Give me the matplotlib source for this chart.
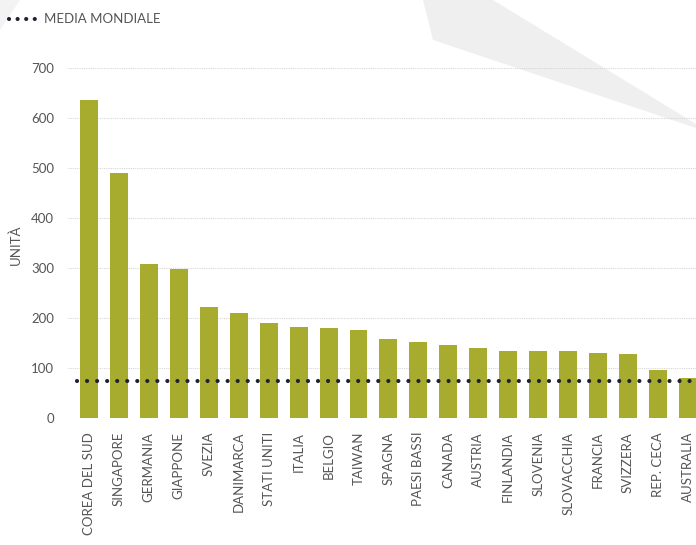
import matplotlib
matplotlib.use('Agg')
import matplotlib.pyplot as plt
from matplotlib.lines import Line2D
from matplotlib.patches import Polygon

plt.rcParams['font.family'] = ['Lato', 'DejaVu Sans']

paesi = ['COREA DEL SUD', 'SINGAPORE', 'GERMANIA', 'GIAPPONE', 'SVEZIA', 'DANIMARCA',
         'STATI UNITI', 'ITALIA', 'BELGIO', 'TAIWAN', 'SPAGNA', 'PAESI BASSI', 'CANADA',
         'AUSTRIA', 'FINLANDIA', 'SLOVENIA', 'SLOVACCHIA', 'FRANCIA', 'SVIZZERA',
         'REP. CECA', 'AUSTRALIA']
unita = [636, 490, 309, 298, 222, 210, 190, 183, 181, 177, 159, 152, 146,
         140, 135, 135, 135, 131, 128, 97, 81]
media_mondiale = 74
y_ticks = [0, 100, 200, 300, 400, 500, 600, 700]

W, H = 696, 545
fig = plt.figure(figsize=(W / 100, H / 100), dpi=100)
fig.patch.set_facecolor('white')

# decorative grey shapes in the background
fig.add_artist(Polygon([(423 / W, 1), (433 / W, 1 - 40 / H), (696 / W, 1 - 128 / H),
                        (696 / W, 1 - 124 / H), (493 / W, 1)],
                       closed=True, transform=fig.transFigure, facecolor='#efefef',
                       edgecolor='none', zorder=0))
fig.add_artist(Polygon([(0, 1), (20 / W, 1), (0, 1 - 30 / H)], closed=True,
                       transform=fig.transFigure, facecolor='#f3f3f3', edgecolor='none', zorder=0))

ax = fig.add_axes([68 / W, (H - 418) / H, (W - 68) / W, 350 / H])
ax.patch.set_alpha(0)

x = list(range(len(paesi)))
ax.bar(x, unita, width=0.6, color='#a8ac2e', zorder=2)
ax.axhline(media_mondiale, xmin=0.014, xmax=1, color='#1f2233', lw=3.0,
           linestyle=(0, (0.01, 2.4)), dash_capstyle='round', zorder=3)

ax.set_xlim(-0.7, 20.27)
ax.set_ylim(0, 700)
ax.set_yticks(y_ticks)
ax.set_xticks(x)
ax.set_xticklabels(paesi, rotation=90, va='top', ha='center', fontsize=10)
ax.grid(axis='y', color='#d6d6d6', linestyle=(0, (1, 1)), lw=0.8, zorder=1)
ax.set_axisbelow(True)
for s in ax.spines.values():
    s.set_visible(False)
ax.tick_params(axis='both', length=0, colors='#555555', labelsize=9.5)
ax.tick_params(axis='y', pad=10)
ax.tick_params(axis='x', pad=10)
ax.set_ylabel('UNITÀ', color='#555555', fontsize=9.5)
ax.yaxis.set_label_coords(-46 / (W - 68), (418 - 245) / 350)

# legend
fig.add_artist(Line2D([9 / W, 35 / W], [1 - 19 / H, 1 - 19 / H], transform=fig.transFigure,
                      color='#1f2233', lw=3.0, linestyle=(0, (0.01, 2.05)),
                      dash_capstyle='round'))
fig.text(44 / W, 1 - 19 / H, 'MEDIA MONDIALE', color='#555555', fontsize=9.5, va='center')

fig.savefig('out.png', dpi=100)
